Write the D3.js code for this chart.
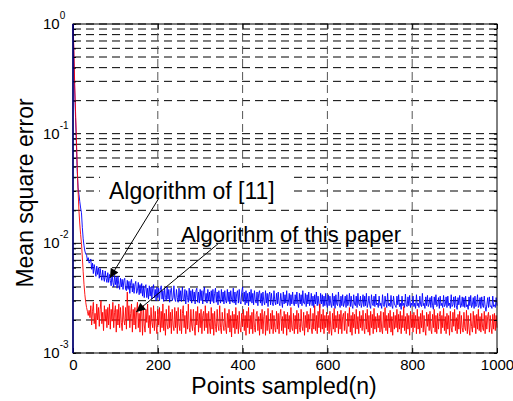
<!DOCTYPE html>
<html>
<head>
<meta charset="utf-8">
<script src="https://cdn.jsdelivr.net/npm/d3@7"></script>
<style>
  body { margin: 0; background: #fff; }
  svg { display: block; font-family: "Liberation Sans", Arial, sans-serif; }
  .axis text { font-size: 15px; fill: #000; }
  .axis line { stroke: #000; }
</style>
</head>
<body>
<svg class="chart" width="513" height="401"></svg>
<script>
// one value every 2 samples, mse in units of 1e-3
var sampleStep = 2;

var blueMse = [
  1000, 500, 250, 140, 80, 45, 32, 28, 24, 21, 19, 14, 11, 9.5, 8.5, 8.0, 7.8, 7.0, 7.4, 6.6, 6.8,
  7.2, 5.8, 6.6, 5.3, 6.4, 5.7, 5.0, 6.2, 5.2, 6.0, 4.8, 5.9, 5.1, 4.6, 5.7, 4.9, 4.5, 5.6, 4.8, 4.4,
  5.4, 4.4, 5.2, 4.6, 4.1, 5.3, 4.4, 4.0, 5.1, 4.2, 4.9, 3.9, 5.0, 4.2, 3.8, 4.8, 4.0, 4.7, 3.8, 4.6,
  4.8, 3.8, 3.7, 4.6, 3.8, 4.5, 3.5, 4.4, 4.7, 3.6, 4.3, 3.5, 4.2, 4.5, 3.5, 3.7, 4.4, 3.4, 4.2, 3.5,
  4.3, 3.3, 4.1, 3.2, 4.0, 4.2, 3.2, 3.9, 3.1, 4.1, 3.3, 4.0, 3.1, 3.9, 4.2, 3.2, 3.8, 3.0, 4.0, 3.2,
  3.9, 3.0, 3.8, 4.1, 3.1, 3.7, 2.95, 3.9, 3.2, 3.0, 4.0, 3.1, 3.8, 2.9, 3.7, 3.9, 3.0, 3.2, 4.1, 3.1,
  2.95, 3.8, 3.2, 2.9, 3.9, 3.0, 3.7, 2.95, 4.0, 3.1, 3.0, 3.8, 2.8, 3.7, 3.2, 2.9, 3.9, 3.0, 3.7, 2.85,
  3.8, 3.0, 3.6, 2.8, 3.7, 3.9, 2.9, 3.6, 2.85, 3.8, 3.0, 3.7, 2.8, 3.6, 4.0, 2.95, 3.5, 2.85, 3.8, 3.0,
  3.6, 2.8, 3.7, 2.95, 3.8, 2.85, 3.5, 3.9, 2.9, 3.6, 2.75, 3.7, 3.1, 2.85, 3.8, 2.95, 3.6, 2.8, 3.7, 3.0,
  2.85, 3.8, 2.95, 3.6, 2.8, 3.7, 3.1, 2.9, 3.9, 2.85, 3.6, 2.75, 3.5, 3.7, 2.85, 3.8, 2.95, 2.8, 3.6, 4.0,
  2.95, 3.6, 2.75, 3.7, 2.85, 3.5, 2.7, 3.6, 2.95, 3.8, 2.85, 3.5, 2.75, 3.7, 3.0, 2.85, 3.6, 2.7, 3.5, 3.7,
  2.85, 3.5, 2.7, 3.6, 2.95, 2.75, 3.7, 2.85, 3.5, 2.65, 3.4, 3.6, 2.75, 3.5, 2.9, 2.7, 3.7, 2.95, 2.75, 3.5,
  2.8, 3.6, 2.85, 2.7, 3.5, 2.95, 2.6, 3.6, 2.8, 3.4, 2.85, 3.7, 2.7, 2.9, 3.5, 2.7, 3.4, 2.8, 3.6, 2.85,
  2.7, 3.4, 2.8, 3.6, 2.85, 2.6, 3.5, 2.8, 3.4, 2.7, 3.7, 2.85, 2.8, 3.5, 2.65, 3.4, 2.8, 3.6, 2.7, 2.9,
  3.5, 2.7, 3.3, 2.6, 3.4, 2.8, 3.6, 2.7, 3.3, 2.8, 2.6, 3.5, 2.8, 3.4, 2.65, 3.3, 2.7, 3.5, 2.8, 2.6,
  3.4, 2.7, 3.3, 2.8, 2.6, 3.5, 2.7, 3.3, 2.55, 3.4, 2.8, 2.7, 3.6, 2.8, 2.6, 3.3, 2.7, 3.4, 2.65, 2.85,
  3.3, 2.6, 3.4, 2.7, 2.85, 3.5, 2.65, 3.3, 2.7, 2.55, 3.4, 2.8, 2.7, 3.3, 2.6, 3.5, 2.8, 2.7, 3.3, 2.6,
  2.85, 3.4, 2.65, 3.3, 2.7, 3.5, 2.6, 2.85, 3.3, 2.7, 2.55, 3.4, 2.8, 2.7, 3.3, 2.65, 3.45, 2.75, 2.85, 2.6,
  3.3, 2.7, 2.85, 2.55, 3.4, 2.75, 2.65, 3.3, 2.85, 2.6, 3.5, 2.7, 2.85, 2.65, 3.35, 2.7, 2.55, 3.3, 2.8, 2.7,
  2.6, 3.3, 2.75, 3.4, 2.65, 2.85, 2.5, 3.3, 2.7, 2.85, 2.6, 3.45, 2.75, 2.65, 3.25, 2.7, 3.35, 2.6, 2.85, 2.7,
  3.3, 2.65, 2.85, 2.55, 3.4, 2.7, 2.85, 2.6, 3.3, 2.75, 2.65, 3.5, 2.7, 2.85, 2.55, 3.25, 2.7, 3.35, 2.65, 2.8,
  3.2, 2.6, 3.3, 2.7, 2.5, 3.25, 2.75, 3.4, 2.65, 2.7, 3.2, 2.55, 3.3, 2.7, 2.85, 2.6, 3.35, 2.65, 2.75, 3.25,
  2.6, 3.3, 2.7, 2.85, 2.55, 3.4, 2.65, 2.75, 3.25, 2.6, 3.3, 2.7, 2.5, 3.2, 2.75, 3.35, 2.6, 2.7, 3.25, 2.65,
  3.2, 2.6, 3.3, 2.65, 2.75, 2.5, 3.25, 2.7, 3.35, 2.6, 2.75, 3.2, 2.55, 3.3, 2.65, 2.75, 3.4, 2.6, 2.7, 3.2,
  2.55, 3.25, 2.7, 2.6, 3.3, 2.65, 2.4, 2.75, 3.2, 2.6, 3.25, 2.65, 2.7, 2.55, 3.3, 2.65, 2.75, 2.6, 3.2, 2.7
];

var redMse = [
  1000, 600, 280, 160, 90, 50, 30, 20, 15, 12, 10, 7.5, 5.5, 4.2, 3.4, 2.9, 2.6, 2.4, 2.2, 2.45, 2.1,
  2.7, 1.8, 2.4, 2.9, 1.85, 2.3, 1.65, 2.8, 2.0, 2.6, 1.75, 2.5, 3.0, 1.85, 2.35, 1.6, 2.7, 1.95, 2.5, 1.7,
  2.6, 1.8, 2.8, 1.65, 2.5, 1.95, 2.9, 1.7, 2.35, 2.7, 1.55, 2.5, 1.8, 2.8, 1.7, 2.6, 1.9, 1.6, 2.7, 2.0,
  1.8, 2.6, 1.65, 3.6, 2.0, 2.7, 1.7, 2.3, 2.8, 1.55, 2.5, 1.8, 2.6, 1.65, 2.4, 2.9, 1.7, 2.3, 1.55, 2.6,
  2.4, 1.45, 2.7, 1.8, 1.55, 2.5, 1.9, 2.8, 1.7, 2.2, 1.5, 2.6, 1.9, 1.7, 2.7, 1.6, 2.4, 1.8, 1.5, 2.5,
  1.8, 2.6, 1.55, 2.4, 1.7, 2.8, 1.6, 2.3, 1.45, 2.5, 1.8, 1.65, 2.7, 1.7, 2.35, 1.5, 2.5, 1.8, 1.6, 2.6,
  1.7, 2.4, 1.5, 2.6, 1.8, 1.6, 2.5, 1.5, 2.3, 2.7, 1.7, 2.2, 1.5, 2.4, 1.65, 2.8, 1.7, 1.55, 2.5, 1.8,
  1.6, 2.5, 1.75, 1.45, 2.4, 1.8, 2.65, 1.55, 2.3, 1.7, 2.5, 1.5, 2.2, 2.4, 1.6, 2.7, 1.7, 2.3, 1.5, 2.4,
  1.8, 1.5, 2.6, 1.65, 2.3, 1.45, 2.4, 1.75, 1.55, 2.5, 1.8, 1.6, 2.7, 1.7, 1.5, 2.35, 1.8, 1.6, 2.55, 1.7,
  1.5, 2.3, 1.7, 2.5, 1.55, 2.2, 1.4, 2.4, 1.7, 2.25, 1.5, 2.6, 1.65, 2.2, 1.5, 2.4, 1.7, 1.55, 2.3, 1.75,
  2.5, 1.6, 2.2, 1.45, 2.4, 1.7, 2.6, 1.5, 2.2, 1.65, 2.35, 1.5, 2.5, 1.7, 1.55, 2.25, 2.4, 1.6, 2.15, 1.45,
  2.3, 1.65, 2.5, 1.5, 2.15, 2.4, 1.45, 2.2, 1.6, 2.55, 1.7, 1.5, 2.3, 1.65, 2.45, 1.5, 2.2, 1.7, 1.55, 2.4,
  1.65, 2.3, 1.5, 2.2, 2.5, 1.6, 2.15, 1.5, 2.4, 1.7, 2.25, 1.45, 2.35, 1.65, 2.2, 1.55, 2.6, 1.7, 1.6, 2.3,
  1.5, 2.2, 1.65, 2.45, 1.5, 2.3, 1.7, 1.55, 2.5, 1.75, 1.6, 2.35, 1.45, 2.2, 1.7, 2.4, 1.55, 2.25, 1.65, 2.55,
  1.7, 1.5, 2.3, 1.65, 2.7, 1.6, 2.2, 1.5, 2.4, 1.7, 2.8, 1.55, 2.25, 1.65, 2.5, 1.5, 2.2, 1.7, 2.35, 1.6,
  2.2, 1.5, 2.4, 1.7, 1.45, 2.3, 1.65, 2.55, 1.55, 2.2, 1.7, 2.4, 1.5, 2.25, 1.65, 2.45, 1.5, 2.15, 2.3, 1.6,
  2.4, 1.65, 1.5, 2.3, 1.75, 2.6, 1.55, 2.2, 1.45, 2.35, 1.7, 2.25, 1.5, 2.5, 1.65, 2.15, 1.5, 2.4, 1.7, 2.2,
  1.6, 2.45, 1.7, 1.5, 2.3, 1.65, 2.5, 1.55, 2.2, 1.45, 2.4, 1.7, 2.25, 1.5, 2.55, 1.65, 2.15, 1.55, 2.3, 1.7,
  2.2, 1.55, 2.4, 1.65, 1.5, 2.35, 1.7, 2.6, 1.6, 2.2, 1.5, 2.3, 1.7, 2.45, 1.55, 2.15, 1.45, 2.35, 1.65, 2.2,
  1.7, 2.5, 1.55, 2.25, 1.65, 2.4, 1.5, 2.2, 1.7, 2.65, 1.6, 2.15, 1.5, 2.3, 1.65, 2.2, 1.45, 2.4, 1.7, 2.25,
  1.55, 2.35, 1.7, 2.2, 1.5, 2.5, 1.65, 2.15, 1.5, 2.3, 1.7, 2.45, 1.55, 2.2, 1.65, 1.45, 2.35, 1.75, 2.25, 1.6,
  2.4, 1.65, 1.5, 2.25, 1.7, 2.5, 1.55, 2.2, 1.5, 2.3, 1.65, 2.15, 2.4, 1.5, 2.2, 1.7, 2.55, 1.6, 2.15, 1.5,
  2.3, 1.65, 2.2, 1.45, 2.4, 1.7, 1.55, 2.35, 1.75, 2.5, 1.6, 2.1, 1.5, 2.25, 1.65, 2.4, 1.5, 2.2, 1.7, 1.55,
  2.35, 1.7, 1.6, 2.45, 1.5, 2.2, 1.65, 1.45, 2.3, 1.75, 1.55, 2.4, 1.7, 2.2, 1.5, 2.25, 1.65, 2.5, 1.6, 2.15,
  1.55, 2.3, 1.7, 1.6, 2.4, 1.5, 2.2, 1.65, 2.15, 2.35, 1.55, 2.2, 1.7, 1.5, 2.25, 1.65, 2.3, 1.6, 2.2, 1.7
];

var xTicks = [0, 200, 400, 600, 800, 1000];
var yExponents = [0, -1, -2, -3];

// annotations: label, arrow start (x, mse), arrow tip (x, mse)
var labels = ["Algorithm of [11]", "Algorithm of this paper"];
var arrowFrom = [[203, 0.026], [342, 0.0099]];
var arrowTo = [[87, 0.00484], [149, 0.00237]];

var plot = {left: 73, right: 497, top: 24, bottom: 353};

var x = d3.scaleLinear().domain([0, 1000]).range([plot.left, plot.right]);
var y = d3.scaleLog().domain([1e-3, 1]).range([plot.bottom, plot.top]);

var svg = d3.select(".chart");
svg.append("rect").attr("width", 513).attr("height", 401).attr("fill", "#fff");

// grid
var grid = svg.append("g").attr("fill", "none").attr("stroke", "#000")
  .attr("stroke-width", 1).attr("stroke-dasharray", "8,5");
grid.selectAll(".hg").data(y.ticks()).enter().append("line")
  .attr("x1", plot.left).attr("x2", plot.right)
  .attr("y1", function(d) { return y(d); })
  .attr("y2", function(d) { return y(d); });
grid.selectAll(".vg").data(xTicks.slice(1, -1)).enter().append("line")
  .attr("stroke", "#555")
  .attr("y1", plot.bottom).attr("y2", plot.top)
  .attr("x1", function(d) { return x(d); })
  .attr("x2", function(d) { return x(d); });

// curves
var line = d3.line()
  .x(function(d, i) { return x(i * sampleStep); })
  .y(function(d) { return y(d * 1e-3); });

svg.append("path").datum(blueMse)
  .attr("fill", "none").attr("stroke", "#0000ff").attr("stroke-width", 0.9)
  .attr("d", line);
svg.append("path").datum(redMse)
  .attr("fill", "none").attr("stroke", "#ff0000").attr("stroke-width", 0.9)
  .attr("d", line);

// axes, ticks pointing inward
var xAxis = d3.axisBottom(x).tickValues(xTicks).tickFormat(d3.format("d"))
  .tickSizeInner(-5).tickSizeOuter(0).tickPadding(6);
svg.append("g").attr("class", "axis")
  .attr("transform", "translate(0," + plot.bottom + ")")
  .call(xAxis)
  .call(function(g) { g.select(".domain").remove(); });

svg.append("g").attr("class", "axis")
  .attr("transform", "translate(0," + plot.top + ")")
  .call(d3.axisTop(x).tickValues(xTicks).tickSizeInner(-5).tickSizeOuter(0).tickFormat(""))
  .call(function(g) { g.select(".domain").remove(); });

svg.append("g").attr("class", "axis")
  .attr("transform", "translate(" + plot.left + ",0)")
  .call(d3.axisLeft(y).tickSizeInner(-3).tickSizeOuter(0).tickFormat(""))
  .call(function(g) { g.select(".domain").remove(); });
svg.append("g").attr("class", "axis")
  .attr("transform", "translate(" + plot.right + ",0)")
  .call(d3.axisRight(y).tickSizeInner(-3).tickSizeOuter(0).tickFormat(""))
  .call(function(g) { g.select(".domain").remove(); });

// y labels 10^n
var yl = svg.selectAll(".ylab").data(yExponents).enter().append("text")
  .attr("class", "ylab")
  .attr("x", 43)
  .attr("y", function(d) { return y(Math.pow(10, d)) + 5; })
  .style("font-size", "15px");
yl.append("tspan").text("10");
yl.append("tspan").attr("dy", -10).style("font-size", "10px")
  .text(function(d) { return d === 0 ? "0" : "-" + Math.abs(d); });

// box
svg.append("rect")
  .attr("x", plot.left).attr("y", plot.top)
  .attr("width", plot.right - plot.left).attr("height", plot.bottom - plot.top)
  .attr("fill", "none").attr("stroke", "#000").attr("stroke-width", 1);
svg.append("line")
  .attr("x1", plot.left).attr("x2", plot.left)
  .attr("y1", plot.top).attr("y2", plot.bottom)
  .attr("stroke", "#000080").attr("stroke-width", 1.5);

// annotations
svg.append("rect").attr("x", 100).attr("y", 168).attr("width", 192).attr("height", 36)
  .attr("fill", "#fff");

svg.append("defs").append("marker")
  .attr("id", "head")
  .attr("markerUnits", "userSpaceOnUse")
  .attr("viewBox", "0 0 10 10")
  .attr("refX", 10).attr("refY", 5)
  .attr("markerWidth", 11).attr("markerHeight", 9)
  .attr("orient", "auto")
  .append("path").attr("d", "M0,0L10,5L0,10Z").attr("fill", "#000");

var textX = [109, 181], textY = [199, 242], textSize = [23, 22];
labels.forEach(function(t, i) {
  svg.append("text").attr("x", textX[i]).attr("y", textY[i])
    .style("font-size", textSize[i] + "px").text(t);
  svg.append("line")
    .attr("x1", x(arrowFrom[i][0])).attr("y1", y(arrowFrom[i][1]))
    .attr("x2", x(arrowTo[i][0])).attr("y2", y(arrowTo[i][1]))
    .attr("stroke", "#000").attr("stroke-width", 1)
    .attr("marker-end", "url(#head)");
});

// axis titles
svg.append("text").attr("x", 284).attr("y", 394)
  .attr("text-anchor", "middle").style("font-size", "23px")
  .text("Points sampled(n)");
svg.append("text")
  .attr("transform", "translate(33,193) rotate(-90)")
  .attr("text-anchor", "middle").style("font-size", "23px")
  .text("Mean square error");
</script>
</body>
</html>
